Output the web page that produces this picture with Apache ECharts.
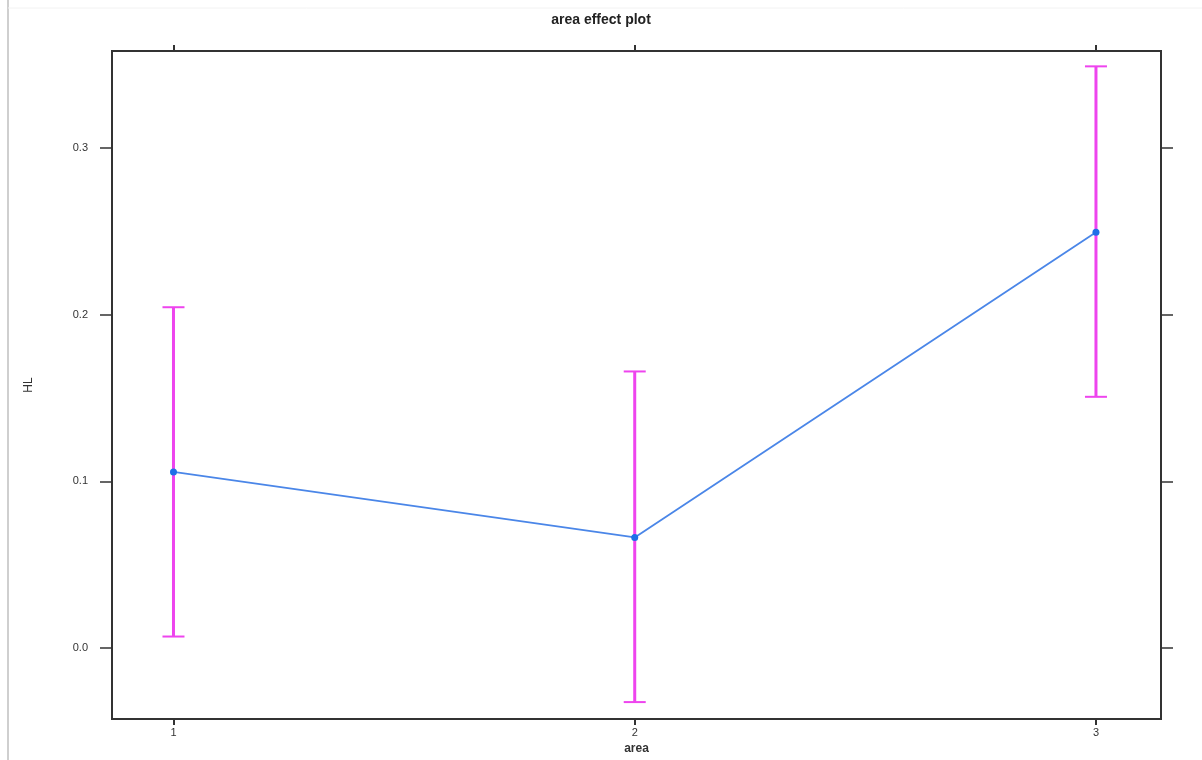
<!DOCTYPE html>
<html>
<head>
<meta charset="utf-8">
<script src="https://cdn.jsdelivr.net/npm/echarts@6/dist/echarts.min.js"></script>
<style>html,body{margin:0;padding:0;background:#fff;}#c{width:1202px;height:760px;}</style>
</head>
<body>
<div id="c"></div>
<script>
// Data
const categories = [1, 2, 3];
const fitValues = [0.1057, 0.0664, 0.2494];
const lowerValues = [0.0070, -0.0323, 0.1507];
const upperValues = [0.2044, 0.1659, 0.3488];
const yTicks = [0.0, 0.1, 0.2, 0.3];
const xTicks = [1, 2, 3];

const chart = echarts.init(document.getElementById('c'));
const lineData = categories.map((c, i) => [c, fitValues[i]]);
const errData = categories.map((c, i) => [c, lowerValues[i], upperValues[i]]);

const axisLineStyle = { color: '#333', width: 2 };
const textColor = '#333';
const font = 'Liberation Sans, Arial, sans-serif';

chart.setOption({
  animation: false,
  backgroundColor: '#fff',
  title: {
    text: 'area effect plot', left: 'center', top: 8,
    textStyle: { fontSize: 14, fontWeight: 'bold', color: '#222', fontFamily: font }
  },
  graphic: [
    { type: 'line', shape: { x1: 8, y1: 0, x2: 8, y2: 760 }, style: { stroke: '#cfcfcf', lineWidth: 2 } },
    { type: 'line', shape: { x1: 8, y1: 8, x2: 1202, y2: 8 }, style: { stroke: '#f2f2f2', lineWidth: 1 } }
  ],
  grid: { left: 112, top: 51, right: 41, bottom: 32, show: true, borderColor: '#333', borderWidth: 2, backgroundColor: 'transparent' },
  xAxis: [
    {
      type: 'value', min: 0.8667, max: 3.141, position: 'bottom',
      name: 'area', nameLocation: 'middle', nameGap: 22,
      nameTextStyle: { fontSize: 12, color: textColor, fontFamily: font, fontWeight: 'bold' },
      axisLine: { show: true, onZero: false, lineStyle: axisLineStyle },
      axisTick: { show: true, length: 6, customValues: xTicks, lineStyle: { color: '#333', width: 2 } },
      axisLabel: { show: true, customValues: xTicks, margin: 8, fontSize: 11, color: textColor, fontFamily: font, formatter: v => String(v) },
      splitLine: { show: false }
    },
    {
      type: 'value', min: 0.8667, max: 3.141, position: 'top',
      axisLine: { show: true, onZero: false, lineStyle: axisLineStyle },
      axisTick: { show: true, length: 6, customValues: xTicks, lineStyle: { color: '#333', width: 2 } },
      axisLabel: { show: false },
      splitLine: { show: false }
    }
  ],
  yAxis: [
    {
      type: 'value', min: -0.0425, max: 0.358, position: 'left',
      name: 'HL', nameLocation: 'middle', nameGap: 77,
      nameTextStyle: { fontSize: 12, color: textColor, fontFamily: font },
      axisLine: { show: true, onZero: false, lineStyle: axisLineStyle },
      axisTick: { show: true, length: 12, customValues: yTicks, lineStyle: { color: '#333', width: 1.5 } },
      axisLabel: { show: true, customValues: yTicks, margin: 24, fontSize: 11, color: textColor, fontFamily: font, formatter: v => v.toFixed(1) },
      splitLine: { show: false }
    },
    {
      type: 'value', min: -0.0425, max: 0.358, position: 'right',
      axisLine: { show: true, onZero: false, lineStyle: axisLineStyle },
      axisTick: { show: true, length: 12, customValues: yTicks, lineStyle: { color: '#333', width: 1.5 } },
      axisLabel: { show: false },
      splitLine: { show: false }
    }
  ],
  series: [
    {
      type: 'custom',
      xAxisIndex: 0, yAxisIndex: 0,
      data: errData,
      renderItem: function (params, api) {
        const x = api.value(0);
        const lo = api.coord([x, api.value(1)]);
        const hi = api.coord([x, api.value(2)]);
        const hw = 11;
        const st = { stroke: '#ee44ee', lineWidth: 3 };
        const cs = { stroke: '#ee44ee', lineWidth: 2 };
        return {
          type: 'group',
          children: [
            { type: 'line', shape: { x1: lo[0], y1: lo[1], x2: hi[0], y2: hi[1] }, style: st },
            { type: 'line', shape: { x1: lo[0] - hw, y1: lo[1], x2: lo[0] + hw, y2: lo[1] }, style: cs },
            { type: 'line', shape: { x1: hi[0] - hw, y1: hi[1], x2: hi[0] + hw, y2: hi[1] }, style: cs }
          ]
        };
      },
      z: 2
    },
    {
      type: 'line',
      xAxisIndex: 0, yAxisIndex: 0,
      data: lineData,
      symbol: 'circle', symbolSize: 7,
      itemStyle: { color: '#1e6fe8' },
      lineStyle: { color: '#4a86e8', width: 1.8 },
      z: 3
    }
  ]
});
</script>
</body>
</html>
